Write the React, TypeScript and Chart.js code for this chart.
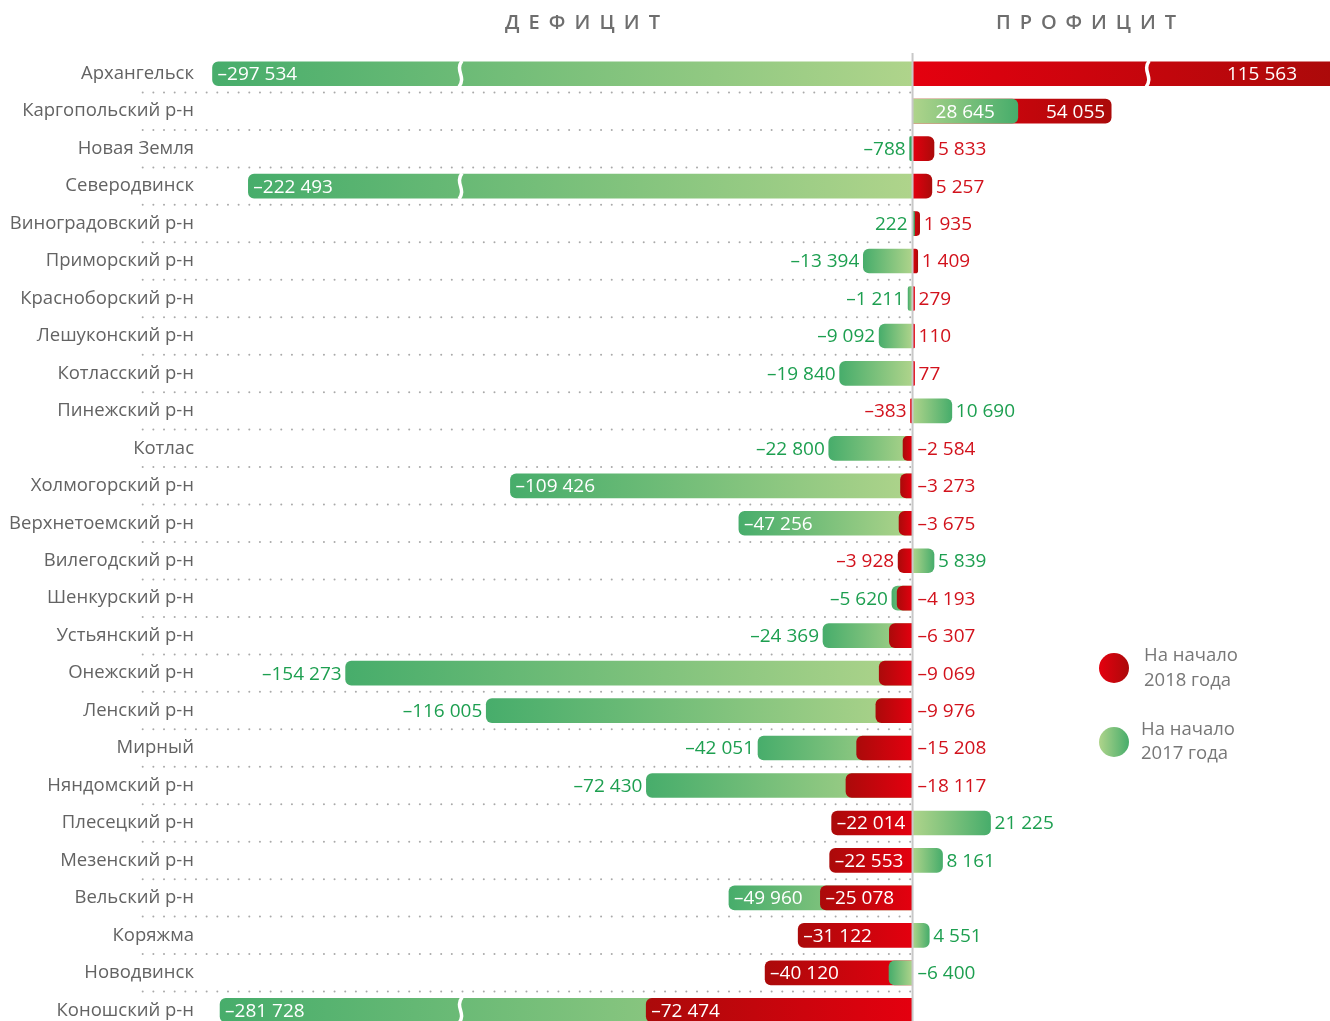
import React, { useEffect, useRef } from "react";
import { Chart, registerables } from "chart.js";

Chart.register(...registerables);

// ---------------- DATA ----------------
const categories = [
  "Архангельск",
  "Каргопольский р-н",
  "Новая Земля",
  "Северодвинск",
  "Виноградовский р-н",
  "Приморский р-н",
  "Красноборский р-н",
  "Лешуконский р-н",
  "Котласский р-н",
  "Пинежский р-н",
  "Котлас",
  "Холмогорский р-н",
  "Верхнетоемский р-н",
  "Вилегодский р-н",
  "Шенкурский р-н",
  "Устьянский р-н",
  "Онежский р-н",
  "Ленский р-н",
  "Мирный",
  "Няндомский р-н",
  "Плесецкий р-н",
  "Мезенский р-н",
  "Вельский р-н",
  "Коряжма",
  "Новодвинск",
  "Коношский р-н",
];

// На начало 2017 года (green)
const values2017 = [
  -297534, 28645, -788, -222493, 222, -13394, -1211, -9092, -19840, 10690,
  -22800, -109426, -47256, 5839, -5620, -24369, -154273, -116005, -42051,
  -72430, 21225, 8161, -49960, 4551, -6400, -281728,
];

// На начало 2018 года (red)
const values2018 = [
  115563, 54055, 5833, 5257, 1935, 1409, 279, 110, 77, -383, -2584, -3273,
  -3675, -3928, -4193, -6307, -9069, -9976, -15208, -18117, -22014, -22553,
  -25078, -31122, -40120, -72474,
];

// label placement: in = inside bar end, out = outside bar end,
// opp = opposite side of zero, mid = centred in bar
const labelPos2017 = [
  "in", "mid", "out", "in", "opp", "out", "out", "out", "out", "out", "out",
  "in", "in", "out", "out", "out", "out", "out", "out", "out", "out", "out",
  "in", "out", "opp", "in",
];
const labelPos2018 = [
  "in", "in", "out", "out", "out", "out", "out", "out", "out", "out", "opp",
  "opp", "opp", "out", "opp", "opp", "opp", "opp", "opp", "opp", "in", "in",
  "in", "in", "in", "in",
];

const headerLeft = "ДЕФИЦИТ";
const headerRight = "ПРОФИЦИТ";
const legend2018 = ["На начало", "2018 года"];
const legend2017 = ["На начало", "2017 года"];

// ---------------- AXIS / BREAK SETTINGS ----------------
const AXIS_MIN = -193900;
const AXIS_MAX = 113600;
const BREAK_START = 174500;
const BREAK_FACTOR = 0.13;
const BREAK_NEG = -123000;
const BREAK_POS = 64000;

const displayValue = (v: number) =>
  v < -BREAK_START ? -(BREAK_START + (-v - BREAK_START) * BREAK_FACTOR) : v;
const isBroken = (v: number) => v < -BREAK_START || v > AXIS_MAX;

// ---------------- STYLE ----------------
const FONT = "'Open Sans', 'Noto Sans', sans-serif";
const GREEN_LIGHT = "#afd48b";
const GREEN_DARK = "#47ad6b";
const RED_LIGHT = "#e4000f";
const RED_DARK = "#ab0a0a";
const GREEN_TEXT = "#1d9f50";
const RED_TEXT = "#d2121c";
const GRAY_TEXT = "#636363";

const fmt = (n: number) =>
  (n < 0 ? "\u2013" : "") +
  String(Math.abs(n)).replace(/\B(?=(\d{3})+(?!\d))/g, " ");

function makeBg(light: string, dark: string, tiny: string) {
  return (ctx: any) => {
    const chart = ctx.chart;
    const xs = chart.scales && chart.scales.x;
    if (ctx.type !== "data" || !xs || ctx.raw == null) return tiny;
    const x0 = xs.getPixelForValue(0);
    const x1 = xs.getPixelForValue(ctx.raw);
    if (!Number.isFinite(x0) || !Number.isFinite(x1)) return tiny;
    if (Math.abs(x1 - x0) < 3) return tiny;
    const g = chart.ctx.createLinearGradient(x0, 0, x1, 0);
    g.addColorStop(0, light);
    g.addColorStop(1, dark);
    return g;
  };
}

const top2017 = values2017.map((v, i) => Math.abs(v) < Math.abs(values2018[i]));

const customPlugin = {
  id: "customDraw",
  beforeDatasetsDraw(chart: any) {
    const { ctx } = chart;
    const ys = chart.scales.y;
    const n = categories.length;
    ctx.save();
    ctx.fillStyle = "#a9a9a9";
    for (let i = 0; i < n; i++) {
      const yc = ys.getPixelForValue(i);
      const yn = i < n - 1 ? ys.getPixelForValue(i + 1) : yc + (yc - ys.getPixelForValue(i - 1));
      const yb = (yc + yn) / 2;
      for (let k = 0; k <= 72; k++) {
        const x = 142.7 + k * 10.66;
        ctx.beginPath();
        ctx.arc(x, yb, 1, 0, Math.PI * 2);
        ctx.fill();
      }
    }
    ctx.restore();
  },
  afterDatasetsDraw(chart: any) {
    const { ctx, chartArea } = chart;
    const xs = chart.scales.x;
    const ys = chart.scales.y;

    // break marks
    ctx.save();
    chart.data.datasets.forEach((ds: any, di: number) => {
      const meta = chart.getDatasetMeta(di);
      const src = ds.series === "2017" ? values2017 : values2018;
      meta.data.forEach((el: any, i: number) => {
        if (ds.data[i] == null) return;
        const real = src[i];
        if (!isBroken(real)) return;
        const px = xs.getPixelForValue(real < 0 ? BREAK_NEG : BREAK_POS);
        const h = el.height;
        const top = el.y - h / 2 - 1;
        const bot = el.y + h / 2 + 1;
        ctx.strokeStyle = "#ffffff";
        ctx.lineWidth = 3.5;
        ctx.beginPath();
        ctx.moveTo(px + 1.5, top);
        ctx.bezierCurveTo(px - 6, top + (bot - top) * 0.4, px + 6, top + (bot - top) * 0.6, px - 1.5, bot);
        ctx.stroke();
      });
    });
    ctx.restore();

    // zero line
    const x0 = xs.getPixelForValue(0);
    ctx.save();
    ctx.fillStyle = "#c8c8c8";
    ctx.fillRect(x0 - 1, 53, 2, chart.height);
    ctx.restore();

    // value labels
    ctx.save();
    ctx.font = `19px ${FONT}`;
    ctx.textBaseline = "middle";
    const drawLabel = (v: number, mode: string, i: number, color: string) => {
      const d = displayValue(v);
      let x1 = xs.getPixelForValue(d);
      const clipped = x1 > chartArea.right || x1 < chartArea.left;
      x1 = Math.max(chartArea.left, Math.min(chartArea.right, x1));
      if (Math.abs(x1 - x0) < 2) x1 = x0 + (v < 0 ? -2 : 2);
      const y = ys.getPixelForValue(i) + 1;
      const text = fmt(v);
      let x = x1;
      if (mode === "in") {
        ctx.fillStyle = "#ffffff";
        if (v < 0) {
          ctx.textAlign = "left";
          x = x1 + (clipped ? 9 : 5);
        } else {
          ctx.textAlign = "right";
          x = x1 - (clipped ? 33 : 6);
        }
      } else if (mode === "mid") {
        ctx.fillStyle = "#ffffff";
        ctx.textAlign = "center";
        x = (x0 + x1) / 2;
      } else if (mode === "out") {
        ctx.fillStyle = color;
        if (v < 0) {
          ctx.textAlign = "right";
          x = x1 - 4;
        } else {
          ctx.textAlign = "left";
          x = x1 + 4;
        }
      } else {
        ctx.fillStyle = color;
        if (v < 0) {
          ctx.textAlign = "left";
          x = x0 + 5;
        } else {
          ctx.textAlign = "right";
          x = x0 - 5;
        }
      }
      ctx.fillText(text, x, y);
    };
    for (let i = 0; i < categories.length; i++) {
      drawLabel(values2017[i], labelPos2017[i], i, GREEN_TEXT);
      drawLabel(values2018[i], labelPos2018[i], i, RED_TEXT);
    }
    ctx.restore();
  },
  afterDraw(chart: any) {
    const { ctx } = chart;
    ctx.save();
    // headers
    ctx.fillStyle = "#6e6e6e";
    ctx.font = `600 20px ${FONT}`;
    ctx.textBaseline = "middle";
    ctx.textAlign = "left";
    const drawSpaced = (text: string, left: number, right: number, y: number) => {
      const chars = Array.from(text);
      const widths = chars.map((c) => ctx.measureText(c).width);
      const total = widths.reduce((a, b) => a + b, 0);
      const gap = (right - left - total) / (chars.length - 1);
      let x = left;
      chars.forEach((c, k) => {
        ctx.fillText(c, x, y);
        x += widths[k] + gap;
      });
    };
    drawSpaced(headerLeft, 505, 660, 23);
    drawSpaced(headerRight, 996, 1176, 23);

    // legend
    const circle = (cx: number, cy: number, a: string, b: string) => {
      const g = ctx.createLinearGradient(cx - 15, 0, cx + 15, 0);
      g.addColorStop(0, a);
      g.addColorStop(1, b);
      ctx.fillStyle = g;
      ctx.beginPath();
      ctx.arc(cx, cy, 15, 0, Math.PI * 2);
      ctx.fill();
    };
    circle(1114, 668, RED_LIGHT, RED_DARK);
    circle(1114, 742, GREEN_LIGHT, GREEN_DARK);
    ctx.fillStyle = "#777777";
    ctx.font = `18.5px ${FONT}`;
    ctx.textAlign = "left";
    ctx.fillText(legend2018[0], 1144, 656);
    ctx.fillText(legend2018[1], 1144, 681);
    ctx.fillText(legend2017[0], 1141, 730);
    ctx.fillText(legend2017[1], 1141, 754);
    ctx.restore();
  },
};

export default function App() {
  const ref = useRef<HTMLCanvasElement>(null);
  useEffect(() => {
    document.body.style.margin = "0";
    document.body.style.overflow = "hidden";
    const common = {
      barThickness: 24,
      grouped: false,
      borderRadius: 6,
      borderSkipped: "start",
      minBarLength: 2,
    };
    const d17 = values2017.map(displayValue);
    const d18 = values2018.map(displayValue);
    const chart = new Chart(ref.current as HTMLCanvasElement, {
      type: "bar",
      data: {
        labels: categories,
        datasets: [
          {
            ...common,
            label: "На начало 2017 года",
            series: "2017",
            order: 0,
            data: d17.map((v, i) => (top2017[i] ? v : null)),
            backgroundColor: makeBg(GREEN_LIGHT, GREEN_DARK, "#3aa862"),
          } as any,
          {
            ...common,
            label: "На начало 2018 года",
            series: "2018",
            order: 0,
            data: d18.map((v, i) => (!top2017[i] ? v : null)),
            backgroundColor: makeBg(RED_LIGHT, RED_DARK, "#e0000f"),
          } as any,
          {
            ...common,
            label: "На начало 2017 года",
            series: "2017",
            order: 1,
            data: d17.map((v, i) => (!top2017[i] ? v : null)),
            backgroundColor: makeBg(GREEN_LIGHT, GREEN_DARK, "#3aa862"),
          } as any,
          {
            ...common,
            label: "На начало 2018 года",
            series: "2018",
            order: 1,
            data: d18.map((v, i) => (top2017[i] ? v : null)),
            backgroundColor: makeBg(RED_LIGHT, RED_DARK, "#e0000f"),
          } as any,
        ],
      },
      options: {
        responsive: false,
        animation: false,
        indexAxis: "y",
        layout: { padding: { top: 55, bottom: 20, left: 0, right: 0 } },
        plugins: {
          legend: { display: false },
          tooltip: { enabled: false },
        },
        scales: {
          x: { type: "linear", min: AXIS_MIN, max: AXIS_MAX, display: false },
          y: {
            type: "category",
            offset: true,
            grid: { display: false, drawTicks: false },
            border: { display: false },
            ticks: {
              padding: 6,
              autoSkip: false,
              color: GRAY_TEXT,
              font: { family: FONT, size: 18.5 },
            },
            afterFit: (s: any) => {
              s.width = 200;
            },
          },
        },
      } as any,
      plugins: [customPlugin],
    });
    return () => chart.destroy();
  }, []);
  return (
    <div
      style={{
        position: "fixed",
        left: 0,
        top: 0,
        width: 1330,
        height: 1021,
        overflow: "hidden",
        background: "#fff",
      }}
    >
      <canvas ref={ref} width={1330} height={1049} style={{ display: "block", width: 1330, height: 1049 }} />
    </div>
  );
}
